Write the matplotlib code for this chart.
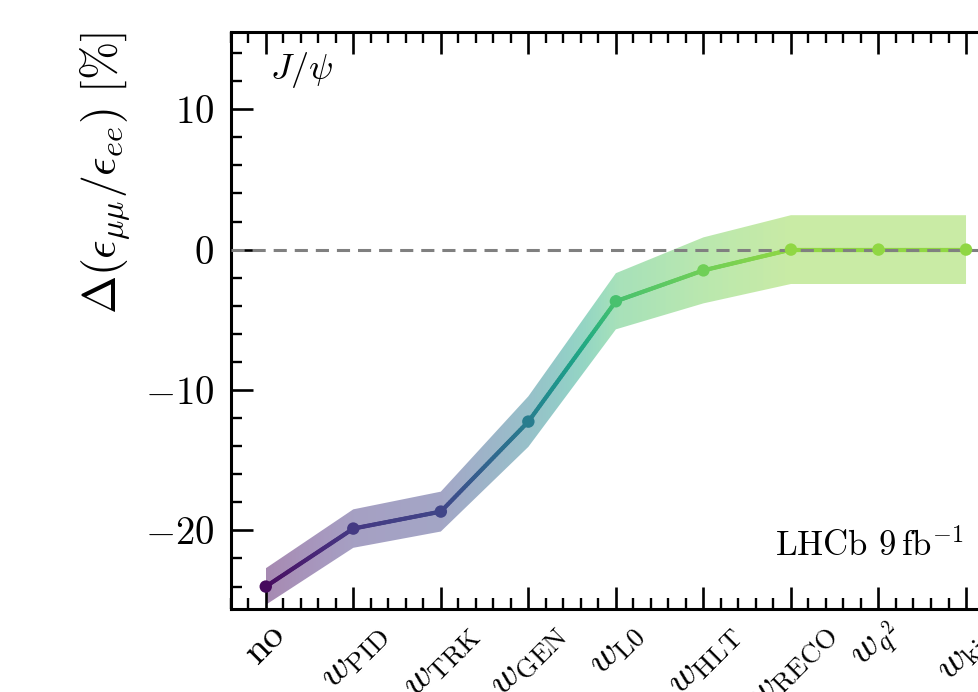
import numpy as np
import matplotlib
matplotlib.use("Agg")
import matplotlib.pyplot as plt
from matplotlib.collections import LineCollection
from matplotlib.patches import Polygon
from matplotlib.ticker import MultipleLocator, AutoMinorLocator
from matplotlib.colors import Normalize

plt.rcParams['font.family'] = 'serif'
plt.rcParams['font.serif'] = ['cmr10']
plt.rcParams['mathtext.fontset'] = 'cm'
plt.rcParams['axes.formatter.use_mathtext'] = True
plt.rcParams['axes.unicode_minus'] = True

# === データ ===
labels = ['no', r'$w_{\rm PID}$', r'$w_{\rm TRK}$', r'$w_{\rm GEN}$', r'$w_{\rm L0}$',
          r'$w_{\rm HLT}$', r'$w_{\rm RECO}$', r'$w_{q^2}$', r'$w_{\rm kin}$']
delta = [-24.0, -19.87, -18.66, -12.25, -3.68, -1.48, 0.0, 0.0, 0.0]
err = [1.3, 1.37, 1.42, 1.8, 2.0, 2.35, 2.45, 2.45, 2.45]

x = np.arange(len(labels))
y = np.array(delta)
e = np.array(err)

cmap = plt.get_cmap('viridis')
norm = Normalize(-24.8, 5.0)

fig = plt.figure(figsize=(9.79, 6.92), dpi=100)
ax = fig.add_axes([0.2357, 0.1199, 0.7868, 0.8339])
ax.set_xlim(-0.4, len(labels) - 1 + 0.4)
ax.set_ylim(-25.6, 15.5)

# --- エラーバンド（値で色付け） ---
verts = np.concatenate([np.column_stack([x, y + e]), np.column_stack([x[::-1], (y - e)[::-1]])])
band = Polygon(verts, closed=True, facecolor='none', edgecolor='none', transform=ax.transData)
ax.add_patch(band)
xs = np.linspace(x[0], x[-1], 600)
cols = cmap(norm(np.interp(xs, x, y)))
cols[:, 3] = 0.48
im = ax.imshow(cols[None, :, :], extent=[x[0], x[-1], -30, 20], aspect='auto',
               interpolation='bilinear', zorder=1)
im.set_clip_path(band)

# --- 中心線（グラデーション） ---
xf = np.linspace(x[0], x[-1], 400)
yf = np.interp(xf, x, y)
pts = np.column_stack([xf, yf]).reshape(-1, 1, 2)
segs = np.concatenate([pts[:-1], pts[1:]], axis=1)
lc = LineCollection(segs, colors=cmap(norm(0.5 * (yf[:-1] + yf[1:]))), linewidth=3.0,
                    capstyle='round', zorder=2)
ax.add_collection(lc)

ax.axhline(0, color='grey', linestyle=(0, (4.3, 2.6)), linewidth=2.2, zorder=3)
ax.scatter(x, y, s=80, c=cmap(norm(y)), zorder=4, linewidths=0)

# --- 軸の体裁 ---
ax.set_xticks(x)
ax.set_xticklabels(labels, rotation=45, ha='center', fontsize=32)
ax.xaxis.set_minor_locator(AutoMinorLocator(5))
ax.yaxis.set_major_locator(MultipleLocator(10))
ax.yaxis.set_minor_locator(MultipleLocator(2))
ax.tick_params(which='both', direction='in', top=True, right=True)
ax.tick_params(which='major', length=15.5, width=1.9, labelsize=28, pad=12)
ax.tick_params(axis='x', which='major', pad=5)
ax.tick_params(which='minor', length=7.8, width=1.7)
for sp in ax.spines.values():
    sp.set_linewidth(2.2)

ax.set_ylabel(r'$\Delta(\epsilon_{\mu\mu}/\epsilon_{ee})\ [\%]$', fontsize=33, loc='top', labelpad=8)

ax.text(0.051, 0.968, r'$J/\psi$', transform=ax.transAxes, fontsize=26, va='top', ha='left')
ax.text(0.951, 0.08, r'LHCb $9\,\mathrm{fb}^{-1}$', transform=ax.transAxes, fontsize=25,
        va='bottom', ha='right')

fig.savefig('out.png', dpi=100)
